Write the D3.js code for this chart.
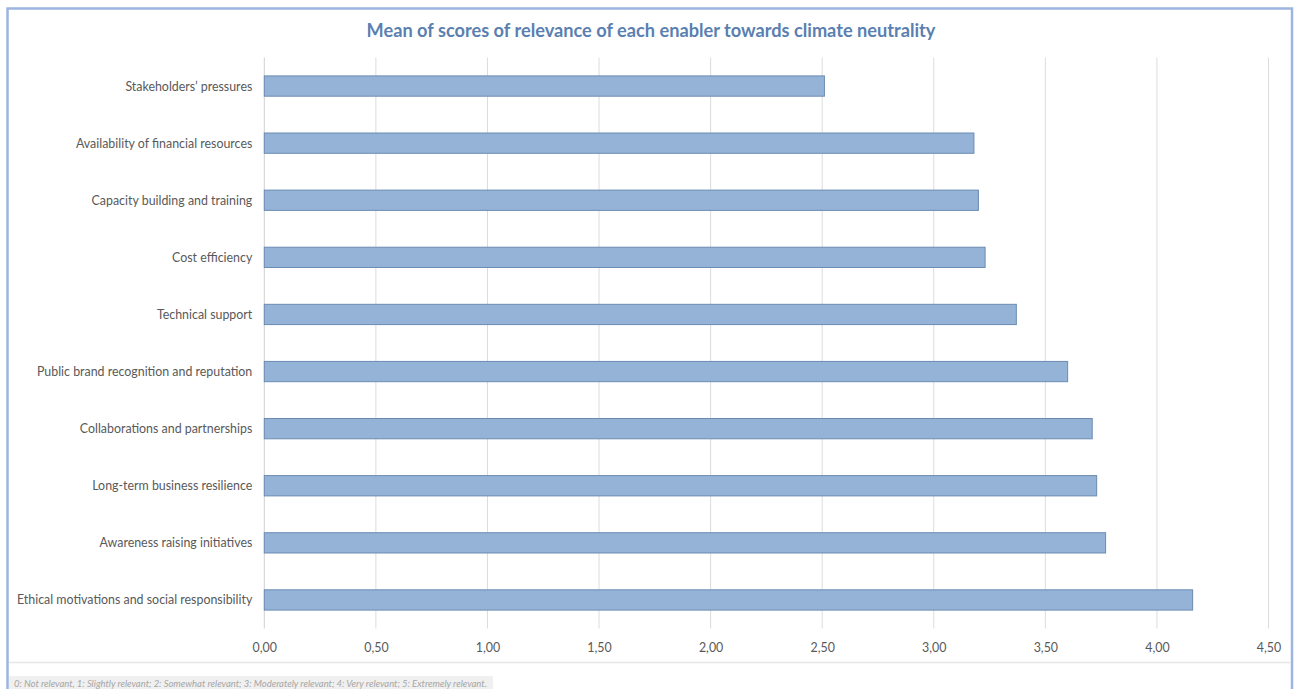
<!DOCTYPE html>
<html>
<head>
<meta charset="utf-8">
<script src="https://cdn.jsdelivr.net/npm/d3@7"></script>
<style>
  html, body { margin: 0; padding: 0; background: #ffffff; }
  svg { display: block; }
</style>
</head>
<body>
<svg id="chart" width="1295" height="689"></svg>
<script>
// Enablers, listed top to bottom
const categories = [
  "Stakeholders’ pressures",
  "Availability of financial resources",
  "Capacity building and training",
  "Cost efficiency",
  "Technical support",
  "Public brand recognition and reputation",
  "Collaborations and partnerships",
  "Long-term business resilience",
  "Awareness raising initiatives",
  "Ethical motivations and social responsibility"
];

// Mean relevance score per enabler (0–5 scale)
const meanScores = [2.51, 3.18, 3.20, 3.23, 3.37, 3.60, 3.71, 3.73, 3.77, 4.16];

const tickValues = [0, 0.5, 1, 1.5, 2, 2.5, 3, 3.5, 4, 4.5];

const titleText = "Mean of scores of relevance of each enabler towards climate neutrality";
const noteText = "0: Not relevant, 1: Slightly relevant; 2: Somewhat relevant; 3: Moderately relevant; 4: Very relevant; 5: Extremely relevant.";

const svg = d3.select("#chart");
const margin = { left: 264.3, right: 1268.5, top: 57.5, bottom: 628.5 };
const font = "Lato, 'Open Sans', sans-serif";
const textColor = "#595959";

// outer chart frame
svg.append("rect")
  .attr("x", 7.5).attr("y", 8.5)
  .attr("width", 1284.5).attr("height", 700)
  .attr("fill", "#ffffff")
  .attr("stroke", "#9db5e0")
  .attr("stroke-width", 2.5);

const x = d3.scaleLinear().domain([0, 4.5]).range([margin.left, margin.right]);
const y = d3.scaleBand().domain(categories)
  .range([margin.top, margin.bottom])
  .paddingInner(0.645).paddingOuter(0.3225);

// vertical gridlines
svg.append("g")
  .selectAll("line")
  .data(tickValues)
  .join("line")
  .attr("x1", d => x(d)).attr("x2", d => x(d))
  .attr("y1", margin.top).attr("y2", margin.bottom)
  .attr("stroke", d => d === 0 ? "#d0d0d0" : "#dcdcdc")
  .attr("stroke-width", 1);

// bars
svg.append("g")
  .selectAll("rect")
  .data(categories)
  .join("rect")
  .attr("x", x(0))
  .attr("y", d => y(d))
  .attr("width", (d, i) => x(meanScores[i]) - x(0))
  .attr("height", y.bandwidth())
  .attr("fill", "#95b3d7")
  .attr("stroke", "#6a8bb3")
  .attr("stroke-width", 1);

// category axis
const yAxis = d3.axisLeft(y).tickSize(0).tickPadding(12);
const yg = svg.append("g").attr("transform", `translate(${x(0)},0.5)`).call(yAxis);
yg.select(".domain").remove();
yg.selectAll("text")
  .attr("fill", textColor)
  .style("font-family", font)
  .style("font-size", "12.4px");

// value axis
const xAxis = d3.axisBottom(x)
  .tickValues(tickValues)
  .tickSize(0)
  .tickPadding(15)
  .tickFormat(d => d3.format(".2f")(d).replace(".", ","));
const xg = svg.append("g").attr("transform", `translate(0,${margin.bottom})`).call(xAxis);
xg.select(".domain").remove();
xg.selectAll("text")
  .attr("fill", textColor)
  .style("font-family", font)
  .style("font-size", "12.4px");

// title
svg.append("text")
  .attr("x", 651).attr("y", 37)
  .attr("text-anchor", "middle")
  .attr("fill", "#5a7fb0")
  .style("font-family", font)
  .style("font-weight", "bold")
  .style("font-size", "18.2px")
  .text(titleText);

// separator above the note
svg.append("line")
  .attr("x1", 9).attr("x2", 1291)
  .attr("y1", 662.5).attr("y2", 662.5)
  .attr("stroke", "#e6e6e6").attr("stroke-width", 1.5);

// scale note
svg.append("rect")
  .attr("x", 9).attr("y", 676)
  .attr("width", 484).attr("height", 14)
  .attr("fill", "#f0f0f0");
svg.append("text")
  .attr("x", 14).attr("y", 687)
  .attr("fill", "#a6a6a6")
  .style("font-family", font)
  .style("font-style", "italic")
  .style("font-size", "9.45px")
  .text(noteText);
</script>
</body>
</html>
